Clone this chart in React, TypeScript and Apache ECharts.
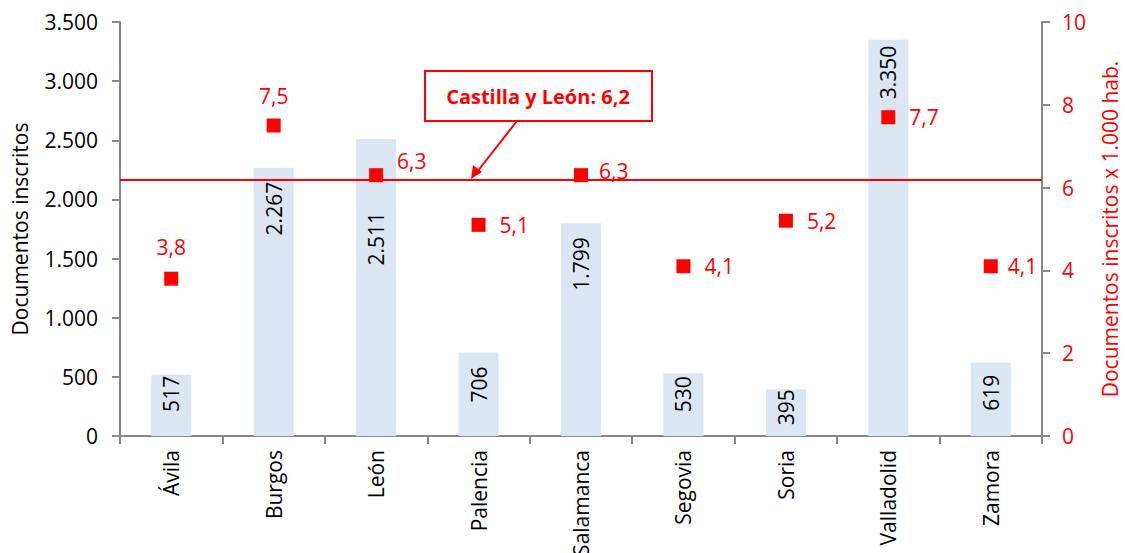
import React, { useEffect, useRef } from "react";
import * as echarts from "echarts";

const provinces = ["Ávila", "Burgos", "León", "Palencia", "Salamanca", "Segovia", "Soria", "Valladolid", "Zamora"];
const documents = [517, 2267, 2511, 706, 1799, 530, 395, 3350, 619];
const perThousand = [3.8, 7.5, 6.3, 5.1, 6.3, 4.1, 5.2, 7.7, 4.1];
const regionalAverage = 6.2;
const regionLabel = "Castilla y León: 6,2";

const FONT = "'Open Sans', sans-serif";
const RED = "#ff0000";
const FS = 21;

const fmtThousands = (v: number) => String(v).replace(/\B(?=(\d{3})+(?!\d))/g, ".");
const fmtDec = (v: number) => v.toFixed(1).replace(".", ",");

// distance of each bar label from the bar top
const barLabelDistance = [1, 14, 73, 14, 14, 3, 0, 6, 12];

// label placement for each point (position, offset)
const pointLabelPlacement: Array<{ position: string; distance: number; offset: number[] }> = [
  { position: "top", distance: 14, offset: [0, 0] },
  { position: "top", distance: 12, offset: [0, 0] },
  { position: "right", distance: 14, offset: [0, -14] },
  { position: "right", distance: 14, offset: [0, 0] },
  { position: "right", distance: 11, offset: [0, -4] },
  { position: "right", distance: 14, offset: [0, 0] },
  { position: "right", distance: 14, offset: [0, 0] },
  { position: "right", distance: 14, offset: [0, 0] },
  { position: "right", distance: 10, offset: [0, 0] },
];

export default function App() {
  const ref = useRef<HTMLDivElement>(null);
  useEffect(() => {
    if (!ref.current) return;
    const chart = echarts.init(ref.current, undefined, { renderer: "svg" });
    chart.setOption({
      animation: false,
      backgroundColor: "#ffffff",
      textStyle: { fontFamily: FONT },
      grid: { left: 120, right: 83, top: 22, bottom: 117, containLabel: false, outerBoundsMode: "none" },
      xAxis: {
        type: "category",
        data: provinces,
        axisLine: { lineStyle: { color: "#888888", width: 2 } },
        axisTick: { show: true, length: 8, lineStyle: { color: "#888888", width: 2 } },
        axisLabel: { rotate: 90, color: "#000", fontSize: FS, fontFamily: FONT, margin: 14, interval: 0 },
        splitLine: { show: false },
      },
      yAxis: [
        {
          type: "value",
          min: 0,
          max: 3500,
          interval: 500,
          name: "Documentos inscritos",
          nameLocation: "middle",
          nameGap: 90,
          nameRotate: 90,
          nameTextStyle: { color: "#000", fontSize: FS, fontFamily: FONT },
          axisLine: { show: true, lineStyle: { color: "#888888", width: 2 } },
          axisTick: { show: true, length: 8, lineStyle: { color: "#888888", width: 2 } },
          axisLabel: { color: "#000", fontSize: FS, fontFamily: FONT, margin: 22, formatter: (v: number) => fmtThousands(v) },
          splitLine: { show: false },
        },
        {
          type: "value",
          min: 0,
          max: 10,
          interval: 2,
          position: "right",
          name: "Documentos inscritos x 1.000 hab.",
          nameLocation: "middle",
          nameGap: 57,
          nameRotate: 90,
          nameTextStyle: { color: RED, fontSize: FS, fontFamily: FONT },
          axisLine: { show: true, lineStyle: { color: "#888888", width: 2 } },
          axisTick: { show: true, length: 8, lineStyle: { color: "#888888", width: 2 } },
          axisLabel: { color: RED, fontSize: FS, fontFamily: FONT, margin: 20 },
          splitLine: { show: false },
        },
      ],
      series: [
        {
          type: "bar",
          yAxisIndex: 0,
          data: documents.map((v, i) => ({ value: v, label: { distance: barLabelDistance[i] } })),
          barWidth: 40,
          itemStyle: { color: "#dce6f2" },
          label: {
            show: true,
            position: "insideTop",
            rotate: 90,
            align: "right",
            verticalAlign: "middle",
            color: "#000",
            fontSize: FS,
            fontFamily: FONT,
            formatter: (p: any) => fmtThousands(p.value),
          },
          z: 1,
        },
        {
          type: "scatter",
          yAxisIndex: 1,
          symbol: "rect",
          symbolSize: 14,
          itemStyle: { color: RED, opacity: 1 },
          data: perThousand.map((v, i) => ({
            value: v,
            label: {
              show: true,
              position: pointLabelPlacement[i].position,
              distance: pointLabelPlacement[i].distance,
              offset: pointLabelPlacement[i].offset,
            },
          })),
          label: {
            show: true,
            color: RED,
            fontSize: FS,
            fontFamily: FONT,
            formatter: (p: any) => fmtDec(p.value),
          },
          markLine: {
            silent: true,
            symbol: ["none", "none"],
            label: { show: false },
            lineStyle: { color: RED, width: 2, type: "solid", opacity: 1 },
            data: [{ yAxis: regionalAverage }],
          },
          z: 3,
        },
      ],
      graphic: [
        {
          type: "rect",
          shape: { x: 425, y: 71, width: 227, height: 50 },
          style: { fill: "#ffffff", stroke: RED, lineWidth: 2 },
          z: 10,
        },
        {
          type: "text",
          x: 538,
          y: 96,
          style: {
            text: regionLabel,
            fill: RED,
            font: `bold 20px ${FONT}`,
            align: "center",
            verticalAlign: "middle",
          },
          z: 11,
        },
        {
          type: "line",
          shape: { x1: 517, y1: 121, x2: 477, y2: 172 },
          style: { stroke: RED, lineWidth: 2 },
          z: 10,
        },
        {
          type: "polygon",
          shape: { points: [[471, 179], [473, 165], [482, 172]] },
          style: { fill: RED },
          z: 10,
        },
      ],
    });
    return () => chart.dispose();
  }, []);
  return (
    <div
      ref={ref}
      style={{ position: "fixed", left: 0, top: 0, width: 1125, height: 553, background: "#fff" }}
    />
  );
}
